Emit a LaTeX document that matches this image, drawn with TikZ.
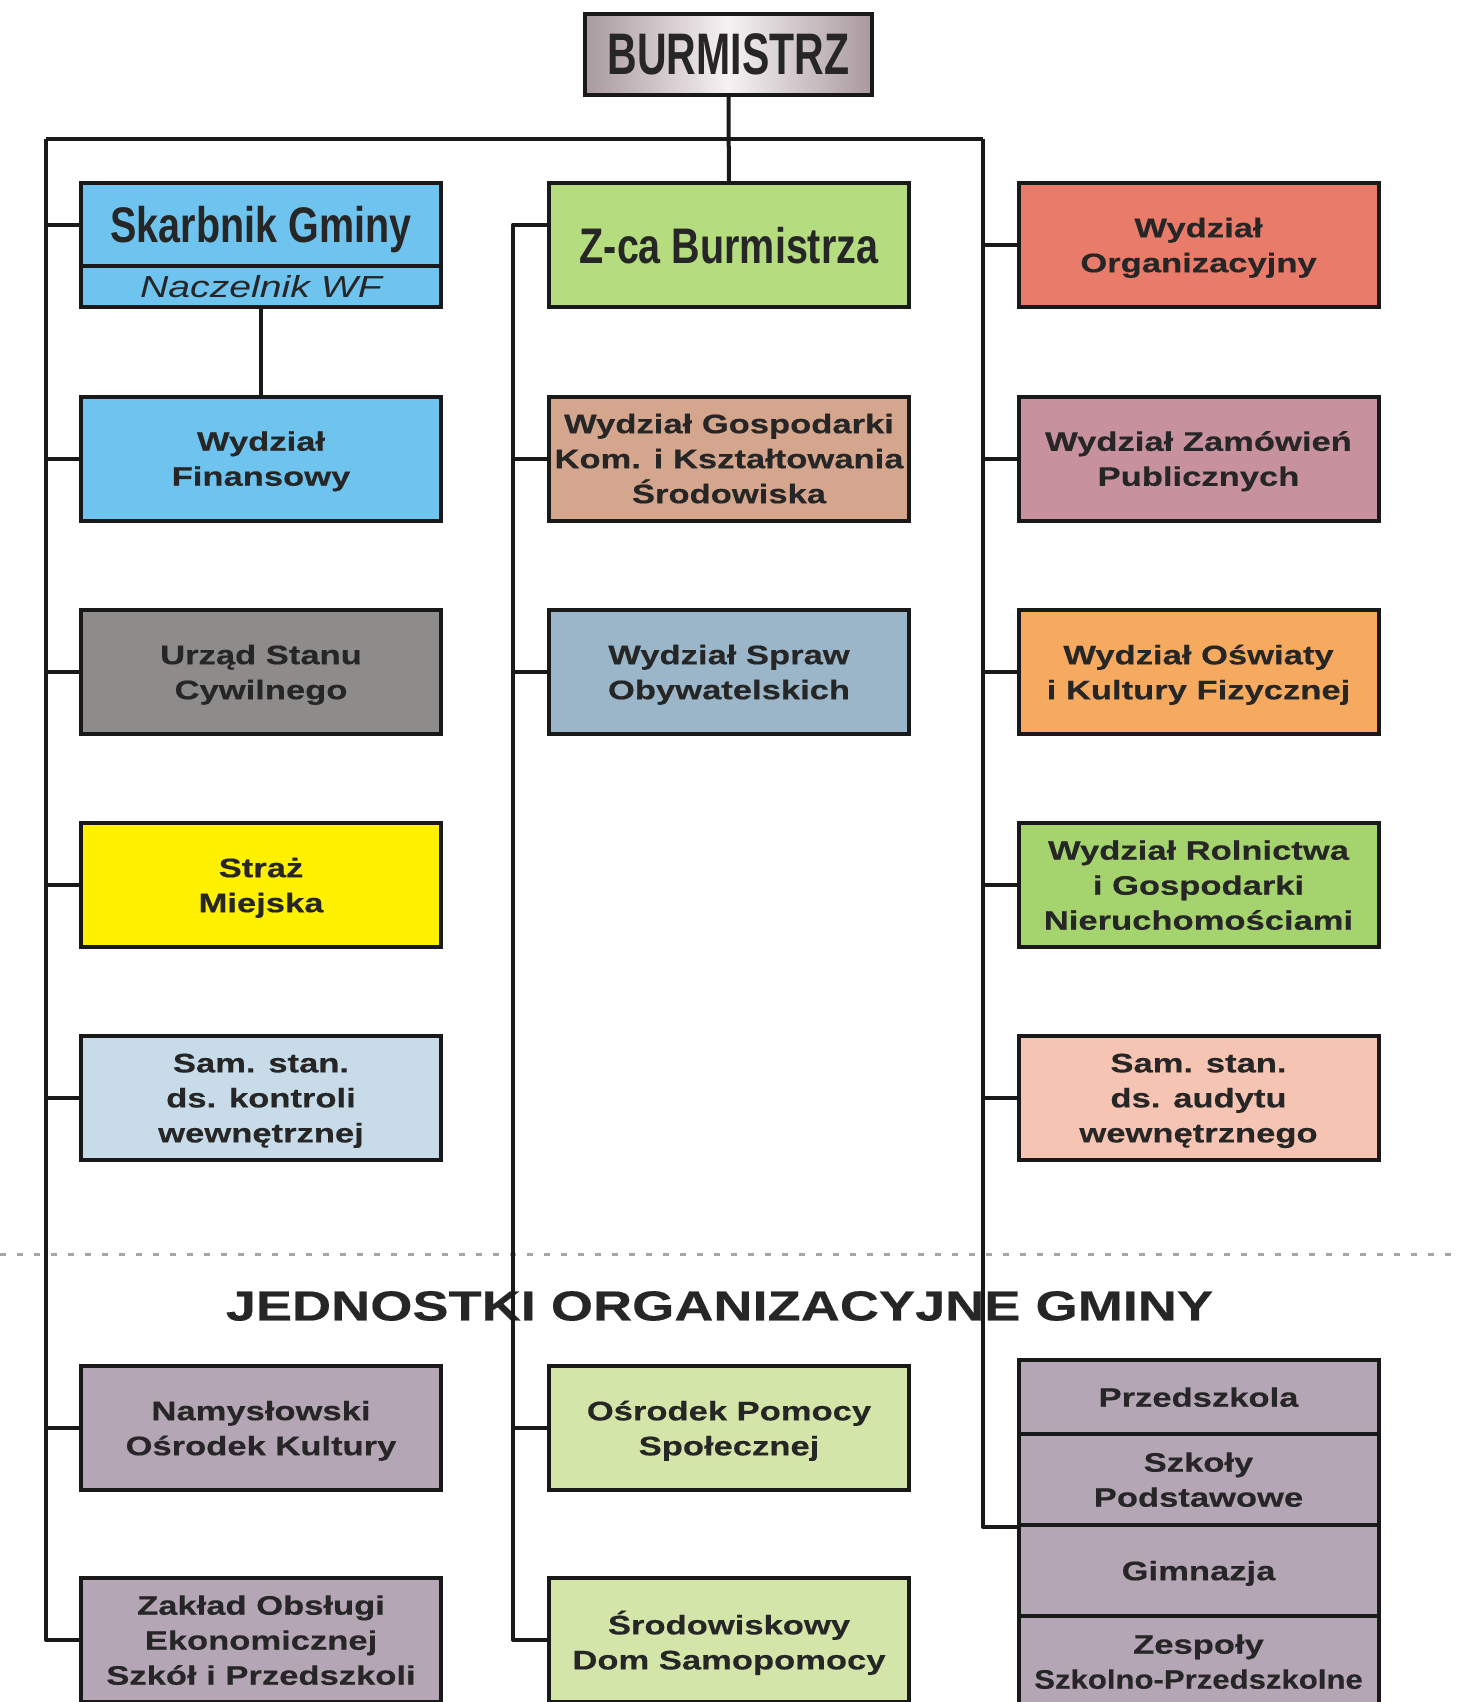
\documentclass[tikz,border=0pt]{standalone}
\usepackage{graphicx}
\usepackage{fontspec}
\setmainfont{Liberation Sans}[FakeStretch=1.29, BoldFeatures={FakeBold=0.4}]
\newfontfamily\narrowfont{Liberation Sans}[FakeStretch=0.79]
\newfontfamily\burmfont{Liberation Sans}[FakeStretch=0.70]
\usetikzlibrary{calc}

\definecolor{burmedge}{HTML}{A8999F}
\definecolor{burmmid}{HTML}{F6F2F4}
\definecolor{skarbblue}{HTML}{6EC4EE}
\definecolor{zcagreen}{HTML}{B5DC7F}
\definecolor{orgred}{HTML}{E97B6B}
\definecolor{gosptan}{HTML}{D4A68E}
\definecolor{zammauve}{HTML}{C7919D}
\definecolor{uscgrey}{HTML}{8E8B8B}
\definecolor{sprawblue}{HTML}{9AB6C8}
\definecolor{osworange}{HTML}{F5AA60}
\definecolor{strazyellow}{HTML}{FFF100}
\definecolor{rolngreen}{HTML}{A5D46E}
\definecolor{kontrblue}{HTML}{C7DCE8}
\definecolor{audytpink}{HTML}{F6C4B2}
\definecolor{jednmauve}{HTML}{B5A6B5}
\definecolor{pomocgreen}{HTML}{D3E5A8}

\tikzset{
  unit/.style={draw=black!90, line width=2pt, minimum width=180pt, minimum height=62pt,
    inner sep=2pt, align=center, text=black!85, text depth=0pt,
    font=\fontsize{13.4}{17.5}\selectfont\bfseries},
  stack/.style={unit, fill=jednmauve, minimum height=45.5pt},
  conn/.style={line width=2pt, black!90, line join=round}
}

\begin{document}
\begin{tikzpicture}[x=0.5pt, y=-0.5pt]
    \useasboundingbox (0,0) rectangle (1456,1702);

    \node[draw=black!90, line width=2pt, minimum width=143.5pt, minimum height=40.5pt, inner sep=0pt,
      left color=burmedge, right color=burmedge, middle color=burmmid,
      font=\fontsize{29.3}{30}\selectfont\burmfont\bfseries, text=black!85] (burm) at (728.5,54.5) {BURMISTRZ};

    \node[unit, fill=skarbblue, minimum height=41.5pt, font=\fontsize{25}{26}\selectfont\narrowfont\bfseries] (skarb) at (261,224.5) {Skarbnik Gminy};
    \node[unit, fill=skarbblue, minimum height=20.5pt, inner sep=0pt, text depth=, font=\fontsize{15.2}{16}\selectfont\itshape] (naczel) at (261,286.5) {Naczelnik WF};
    \node[unit, fill=skarbblue] (finans) at (261,458.5) {Wydział\\Finansowy};
    \node[unit, fill=uscgrey] (usc) at (261,672) {Urząd Stanu\\Cywilnego};
    \node[unit, fill=strazyellow] (straz) at (261,885) {Straż\\Miejska};
    \node[unit, fill=kontrblue] (kontr) at (261,1098) {Sam. stan.\\ds. kontroli\\wewnętrznej};
    \node[unit, fill=jednmauve] (namys) at (261,1428) {Namysłowski\\Ośrodek Kultury};
    \node[unit, fill=jednmauve] (zakl) at (261,1640) {Zakład Obsługi\\Ekonomicznej\\Szkół i Przedszkoli};

    \node[unit, fill=zcagreen, font=\fontsize{25}{26}\selectfont\narrowfont\bfseries] (zca) at (729,245) {Z-ca Burmistrza};
    \node[unit, fill=gosptan] (gosp) at (729,458.5) {Wydział Gospodarki\\Kom. i Kształtowania\\Środowiska};
    \node[unit, fill=sprawblue] (spraw) at (729,672) {Wydział Spraw\\Obywatelskich};
    \node[unit, fill=pomocgreen] (pomoc) at (729,1428) {Ośrodek Pomocy\\Społecznej};
    \node[unit, fill=pomocgreen] (srod) at (729,1640) {Środowiskowy\\Dom Samopomocy};

    \node[unit, fill=orgred] (org) at (1198.5,245) {Wydział\\Organizacyjny};
    \node[unit, fill=zammauve] (zamow) at (1198.5,458.5) {Wydział Zamówień\\Publicznych};
    \node[unit, fill=osworange] (oswiat) at (1198.5,672) {Wydział Oświaty\\i Kultury Fizycznej};
    \node[unit, fill=rolngreen] (roln) at (1198.5,885) {Wydział Rolnictwa\\i Gospodarki\\Nieruchomościami};
    \node[unit, fill=audytpink] (audyt) at (1198.5,1098) {Sam. stan.\\ds. audytu\\wewnętrznego};

    \node[stack, minimum height=37pt] (przed) at (1198.5,1397) {Przedszkola};
    \node[stack] (szkoly) at (1198.5,1479.5) {Szkoły\\Podstawowe};
    \node[stack] (gimn) at (1198.5,1570.5) {Gimnazja};
    \node[stack] (zesp) at (1198.5,1661.5) {Zespoły\\\scalebox{0.9}[1]{Szkolno-Przedszkolne}};

    \draw[gray!70, line width=1.5pt, dash pattern=on 3pt off 5.5pt] (0,1254) -- (1456,1254);
    \node[font=\fontsize{21}{23}\selectfont\bfseries, text=black!85] (jedn) at (719.5,1306) {JEDNOSTKI ORGANIZACYJNE GMINY};

    \coordinate (ltop) at (46,139);
    \coordinate (rtop) at (983,139);
    \coordinate (mtop) at (513,224.5);

    \draw[conn] (ltop) -- (rtop);
    \draw[conn] (burm) -- (zca);
    \draw[conn] (naczel) -- (finans);

    \draw[conn] (ltop) |- (zakl.west);
    \foreach \n in {skarb, finans, usc, straz, kontr, namys}
      \draw[conn] (ltop |- \n.west) -- (\n.west);

    \draw[conn] (zca.west |- mtop) -- (mtop) |- (srod.west);
    \foreach \n in {gosp, spraw, pomoc}
      \draw[conn] (mtop |- \n.west) -- (\n.west);

    \draw[conn] (rtop) |- (szkoly.south west);
    \foreach \n in {org, zamow, oswiat, roln, audyt}
      \draw[conn] (rtop |- \n.west) -- (\n.west);
  \end{tikzpicture}
\end{document}
